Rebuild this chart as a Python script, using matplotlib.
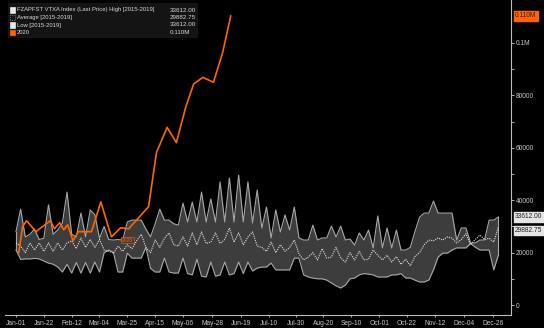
import numpy as np
import matplotlib
matplotlib.use("Agg")
import matplotlib.pyplot as plt
from matplotlib.patches import Rectangle

plt.rcParams['font.family'] = ['Liberation Sans', 'DejaVu Sans']

# x positions of tick labels, in days since Jan-01 (2020 calendar)
tick_days = [0, 21, 42, 63, 84, 105, 126, 148, 170, 191, 211, 232, 253, 274, 295, 316, 338, 360]
tick_labels = ['Jan-01', 'Jan-22', 'Feb-12', 'Mar-04', 'Mar-25', 'Apr-15', 'May-06', 'May-28',
               'Jun-19', 'Jul-10', 'Jul-30', 'Aug-20', 'Sep-10', 'Oct-01', 'Oct-22', 'Nov-12',
               'Dec-04', 'Dec-26']

# 2015-2019 band, sampled twice a week (values in thousands)
band_days = np.arange(0, 366, 3.5)
band_high = [28, 36.6, 26, 27, 29, 25, 25.5, 38.2, 27, 28.6,
             31.3, 43.1, 27, 26, 35.1, 26, 36.3, 34.4, 25.5, 30,
             25, 24.8, 25, 24.8, 31.7, 32.4, 32.4, 32.4, 29, 26,
             31, 36.6, 32.4, 32.4, 31, 30.5, 38.9, 31.7, 39.3, 31.7,
             43.1, 31.7, 40.5, 31.7, 47.0, 31.7, 48.5, 31.7, 49.6, 31.7,
             47.0, 31.3, 43.9, 29.4, 37.4, 25.6, 36.3, 27.9, 34.4, 28.6,
             37.4, 25.6, 24.8, 24.8, 30.5, 24.8, 25.6, 25.6, 30.1, 26,
             30.1, 24.8, 25.2, 22.9, 27.5, 24.8, 28.6, 21.8, 34.0, 21.8,
             29.4, 21.8, 28.6, 21, 21, 22, 28, 33.5, 35.1, 35.1,
             39.7, 35.1, 35.1, 35.1, 35.1, 24.8, 29.4, 29.4, 23.7, 23.7,
             24.8, 24.8, 32.4, 32.4, 33.612]
band_low = [21, 17.4, 17.6, 17.6, 17.8, 17.6, 16.8, 16.0, 15.6, 14.5,
            12.6, 15.5, 12.2, 16.2, 12.2, 16.2, 12.2, 16.4, 12.6, 20,
            21, 20, 12.6, 12.6, 19.8, 17.9, 17.9, 17.9, 22, 14,
            12.6, 12.6, 17.9, 12.6, 12.2, 12.2, 17.9, 12, 11.5, 17.5,
            11, 10.7, 16.4, 11, 11.5, 16.4, 11.5, 12, 16.4, 12,
            16.4, 13, 14.1, 14.5, 14.5, 16, 13.4, 13.4, 13.4, 13.4,
            17.9, 17.9, 11.5, 10.7, 10.3, 10, 10, 9.5, 8.4, 7.3,
            6.5, 7.6, 10, 10.3, 11.5, 12, 11.8, 11.5, 10.7, 10.7,
            10.7, 11.5, 11.5, 12, 10.3, 10.3, 9.5, 8.8, 8.8, 9.5,
            13.4, 18.3, 19.8, 19.8, 21, 21.8, 21.8, 21.8, 23.5, 22.1,
            21, 21, 21, 13.4, 19.1]
band_avg = [23.7, 22.5, 20, 23.7, 21, 23.7, 20.5, 23.7, 20.5, 23.7,
            21, 23.7, 24.5, 21.5, 25.6, 22, 25, 22, 25, 21,
            20.5, 19.8, 22.5, 20.5, 23, 21.5, 24.5, 27, 22, 20,
            24.8, 22, 25.5, 27.5, 23, 22.5, 26, 22.5, 27.5, 23,
            27.9, 23.5, 24, 27.5, 23.5, 25, 29.4, 24, 27.5, 23,
            26, 27.9, 22.5, 22, 20.5, 24, 20, 23, 20.5, 22,
            24.8, 19.5, 17.2, 18.3, 20, 17.2, 21.5, 17.9, 18.3, 22,
            18, 16.4, 20, 17.2, 20.5, 17.2, 17.5, 21, 19, 17.2,
            19, 16.4, 18.5, 15.5, 17.5, 15, 18.5, 20, 23, 24.8,
            24.5, 25.6, 24.8, 26, 25.5, 23.7, 25, 27.2, 23, 25,
            26.7, 25, 25.5, 24, 29.88275]

# 2020 series
y2020_days = [2, 5, 8, 15, 26, 29, 33, 36, 39, 43, 47, 57, 64, 72, 79, 85,
              100, 106, 114, 121, 128, 134, 141, 149, 156, 162]
y2020_vals = [19.9, 29.9, 32.2, 28.0, 32.2, 29.1, 31.4, 28.7, 30.6, 24.5, 28.0, 28.0,
              39.4, 26.0, 29.5, 29.1, 37.5, 58.2, 67.8, 62.0, 75.4, 84.3, 86.9, 85.0,
              96.5, 110.3]

y_ticks = [0, 20000, 40000, 60000, 80000, 100000]
y_tick_labels = ['0', '20000', '40000', '60000', '80000', '0.1M']

legend_names = ['FZAPFST VTXA Index (Last Price) High [2015-2019]', 'Average [2015-2019]',
                'Low [2015-2019]', '2020']
legend_values = ['33612.00', '29882.75', '33612.00', '0.110M']

W, H = 544, 328
ORANGE = '#ff6600'
GREY = '#c8c8c8'

fig = plt.figure(figsize=(W / 100, H / 100), dpi=100, facecolor='black')
ax = fig.add_axes([5 / W, 13 / H, 506 / W, 315 / H])
ax.set_facecolor('black')

hi = np.array(band_high) * 1000
lo = np.array(band_low) * 1000
av = np.array(band_avg) * 1000

ax.fill_between(band_days, lo, hi, color='#3d3d3d', lw=0)
ax.plot(band_days, hi, color='#a8a8a8', lw=0.8)
ax.plot(band_days, lo, color='#a8a8a8', lw=0.8)
ax.plot([band_days[0]] * 2, [lo[0], hi[0]], color='#a8a8a8', lw=0.8)
ax.plot([band_days[-1]] * 2, [lo[-1], hi[-1]], color='#a8a8a8', lw=0.8)
ax.plot(band_days, av, color='#e0e0e0', lw=0.8, ls=(0, (1, 1)))
ax.plot(y2020_days, np.array(y2020_vals) * 1000, color=ORANGE, lw=1.2)

ax.set_xlim(-8.3, 373.5)
ax.set_ylim(-3800, 116400)

for s in ['top', 'left']:
    ax.spines[s].set_visible(False)
for s in ['right', 'bottom']:
    ax.spines[s].set_color('#bdbdbd')
    ax.spines[s].set_linewidth(0.8)

ax.set_xticks(tick_days)
ax.set_xticklabels(tick_labels)
ax.tick_params(axis='x', colors=GREY, labelsize=4.8, length=1.5, width=0.6, pad=2)

ax.yaxis.tick_right()
ax.set_yticks(y_ticks)
ax.set_yticklabels(y_tick_labels)
ax.set_yticks(np.arange(10000, 110000, 20000), minor=True)
ax.tick_params(axis='y', which='both', colors=GREY, labelsize=4.8, length=2, width=0.6, pad=1.5)

# small "2020" tag on the chart
ax.text(84, 24800, '2020', color=ORANGE, fontsize=3.6, ha='center', va='center',
        bbox=dict(boxstyle='square,pad=0.15', fc='#3d3d3d', ec=ORANGE, lw=0.4))


def fx(x):
    return x / W


def fy(y):
    return 1 - y / H


# legend box
fig.patches.append(Rectangle((fx(8), fy(38)), 190 / W, 35 / H, transform=fig.transFigure,
                             facecolor='#141414', edgecolor='none', zorder=5))
row_y = [10, 17.5, 25, 32.5]
sq_face = ['#e8e8e8', 'none', '#e8e8e8', ORANGE]
sq_edge = ['#e8e8e8', '#bbbbbb', '#e8e8e8', ORANGE]
sq_ls = ['-', ':', '-', '-']
for i in range(4):
    fig.patches.append(Rectangle((fx(10), fy(row_y[i] + 2.5)), 5 / W, 5 / H,
                                 transform=fig.transFigure, facecolor=sq_face[i],
                                 edgecolor=sq_edge[i], lw=0.5, ls=sq_ls[i], zorder=6))
    fig.text(fx(17), fy(row_y[i]), legend_names[i], color='#d8d8d8', fontsize=4.2,
             va='center', ha='left', zorder=7)
    fig.text(fx(170), fy(row_y[i]), legend_values[i], color='#d8d8d8', fontsize=4.5,
             va='center', ha='left', zorder=7)

# last-value tags on the right axis
ax.annotate('0.110M', xy=(1.0, 110300), xycoords=('axes fraction', 'data'),
            xytext=(3, 0), textcoords='offset points', fontsize=4.8, color='#3a1a00',
            va='center', ha='left', annotation_clip=False,
            bbox=dict(boxstyle='square,pad=0.2', fc=ORANGE, ec=ORANGE))
ax.annotate('33612.00', xy=(1.0, 33612), xycoords=('axes fraction', 'data'),
            xytext=(3, 0), textcoords='offset points', fontsize=4.8, color='#222222',
            va='center', ha='left', annotation_clip=False,
            bbox=dict(boxstyle='square,pad=0.2', fc='#e6e6e6', ec='#e6e6e6'))
ax.annotate('29882.75', xy=(1.0, 29000), xycoords=('axes fraction', 'data'),
            xytext=(3, -1), textcoords='offset points', fontsize=4.8, color='#222222',
            va='center', ha='left', annotation_clip=False,
            bbox=dict(boxstyle='square,pad=0.2', fc='#e6e6e6', ec='#e6e6e6'))

fig.savefig('out.png', dpi=100, facecolor='black')
